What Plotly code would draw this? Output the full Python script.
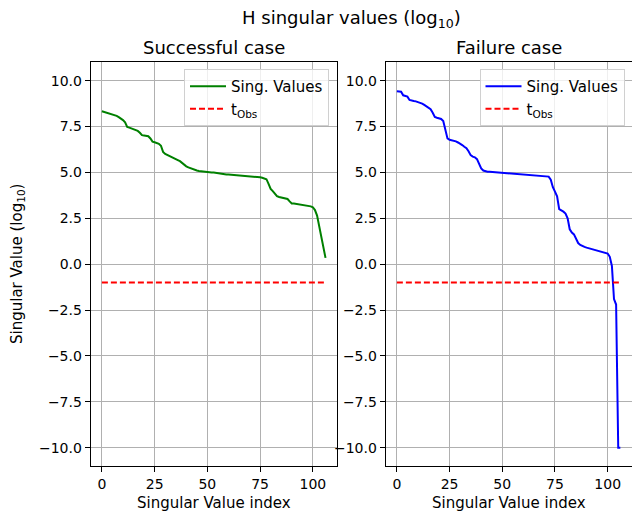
import plotly.graph_objects as go

# ---- data ----
success_sv = [
    8.33, 8.30, 8.26, 8.23, 8.19, 8.16, 8.13, 8.08, 8.01, 7.94,
    7.85, 7.73, 7.48, 7.44, 7.39, 7.33, 7.30, 7.26, 7.16, 7.03,
    7.01, 6.99, 6.97, 6.85, 6.68, 6.64, 6.61, 6.56, 6.45, 6.12,
    6.01, 5.96, 5.90, 5.84, 5.78, 5.73, 5.67, 5.61, 5.50, 5.39,
    5.33, 5.27, 5.22, 5.17, 5.13, 5.10, 5.08, 5.06, 5.05, 5.03,
    5.02, 5.01, 5.00, 4.99, 4.97, 4.94, 4.92, 4.91, 4.90, 4.89,
    4.89, 4.88, 4.87, 4.86, 4.86, 4.85, 4.84, 4.84, 4.83, 4.82,
    4.82, 4.80, 4.79, 4.77, 4.75, 4.73, 4.71, 4.68, 4.63, 4.38,
    4.10, 3.98, 3.84, 3.71, 3.66, 3.64, 3.62, 3.59, 3.55, 3.42,
    3.31, 3.30, 3.28, 3.27, 3.26, 3.25, 3.24, 3.22, 3.19, 3.15,
    3.10, 2.95, 2.65, 2.10, 1.55, 0.95, 0.34,
]
failure_sv = [
    9.42, 9.42, 9.40, 9.20, 9.16, 9.13, 8.95, 8.90, 8.89, 8.87,
    8.84, 8.80, 8.75, 8.68, 8.59, 8.52, 8.44, 8.25, 8.02, 7.98,
    7.95, 7.91, 7.80, 7.30, 6.85, 6.78, 6.76, 6.72, 6.69, 6.63,
    6.57, 6.49, 6.40, 6.32, 6.15, 5.94, 5.86, 5.82, 5.72, 5.48,
    5.22, 5.10, 5.06, 5.04, 5.03, 5.02, 5.01, 5.00, 5.00, 4.99,
    4.99, 4.98, 4.97, 4.96, 4.95, 4.94, 4.93, 4.92, 4.90, 4.89,
    4.88, 4.88, 4.87, 4.86, 4.86, 4.85, 4.84, 4.84, 4.83, 4.82,
    4.81, 4.80, 4.77, 4.60, 4.19, 3.95, 3.70, 3.00, 2.94, 2.86,
    2.76, 2.50, 1.90, 1.72, 1.62, 1.40, 1.15, 1.05, 0.98, 0.94,
    0.90, 0.87, 0.83, 0.80, 0.77, 0.73, 0.70, 0.67, 0.64, 0.61,
    0.58, 0.40, -0.10, -1.90, -2.20, -10.00, -10.00,
]
t_obs = -1.0
x_ticks = [0, 25, 50, 75, 100]
y_ticks = [-10.0, -7.5, -5.0, -2.5, 0.0, 2.5, 5.0, 7.5, 10.0]

W, H = 632, 512
FONT = "DejaVu Sans"

def px_x(p):
    return p / W

def px_y(p):
    return 1 - p / H

fig = go.Figure()

idx_s = list(range(len(success_sv)))
idx_f = list(range(len(failure_sv)))

fig.add_trace(go.Scatter(x=idx_s, y=success_sv, mode="lines", name="Sing. Values",
                         line=dict(color="green", width=2), xaxis="x", yaxis="y",
                         legend="legend"))
fig.add_trace(go.Scatter(x=[idx_s[0], idx_s[-1]], y=[t_obs, t_obs], mode="lines",
                         name="t<sub>Obs</sub>",
                         line=dict(color="red", width=2, dash="6px,3px"),
                         xaxis="x", yaxis="y", legend="legend"))
fig.add_trace(go.Scatter(x=idx_f, y=failure_sv, mode="lines", name="Sing. Values",
                         line=dict(color="blue", width=2), xaxis="x2", yaxis="y2",
                         legend="legend2"))
fig.add_trace(go.Scatter(x=[idx_f[0], idx_f[-1]], y=[t_obs, t_obs], mode="lines",
                         name="t<sub>Obs</sub>",
                         line=dict(color="red", width=2, dash="6px,3px"),
                         xaxis="x2", yaxis="y2", legend="legend2"))

n = len(success_sv) - 1
xr = [-0.05 * n, n * 1.05]
yr = [-11.0, 11.0]

axis_common = dict(
    showline=True, linecolor="black", linewidth=1, mirror=True,
    showgrid=True, gridcolor="#b0b0b0", gridwidth=1,
    ticks="outside", ticklen=5, tickcolor="black", tickwidth=1,
    tickfont=dict(family=FONT, size=14, color="black"),
    zeroline=False,
)

ydom = [px_y(466), px_y(62.3)]
legend_common = dict(
    xanchor="right", yanchor="top",
    bgcolor="rgba(255,255,255,0.8)", bordercolor="#d0d0d0", borderwidth=1,
    font=dict(family=FONT, size=15), itemwidth=36, tracegroupgap=0,
)
fig.update_layout(
    width=W, height=H,
    margin=dict(l=0, r=0, t=0, b=0),
    paper_bgcolor="white", plot_bgcolor="white",
    font=dict(family=FONT, color="black"),
    xaxis=dict(domain=[px_x(90.7), px_x(336.7)], range=xr, tickvals=x_ticks,
               anchor="y", **axis_common),
    yaxis=dict(domain=ydom, range=yr, tickvals=y_ticks, tickformat=".1f",
               anchor="x", **axis_common),
    xaxis2=dict(domain=[px_x(385.7), px_x(631.5)], range=xr, tickvals=x_ticks,
                anchor="y2", **axis_common),
    yaxis2=dict(domain=ydom, range=yr, tickvals=y_ticks, tickformat=".1f",
                anchor="x2", **axis_common),
    legend=dict(x=px_x(329), y=px_y(69), **legend_common),
    legend2=dict(x=px_x(624.5), y=px_y(69), **legend_common),
    showlegend=True,
)

ann_font_title = dict(family=FONT, size=18, color="black")
ann_font_label = dict(family=FONT, size=15, color="black")
annotations = [
    dict(text="H singular values (log<sub>10</sub>)", x=px_x(351), y=px_y(19),
         xref="paper", yref="paper", showarrow=False, font=ann_font_title,
         xanchor="center", yanchor="middle"),
    dict(text="Successful case", x=px_x(213.7), y=px_y(47), xref="paper", yref="paper",
         showarrow=False, font=ann_font_title, xanchor="center", yanchor="middle"),
    dict(text="Failure case", x=px_x(508.6), y=px_y(47), xref="paper", yref="paper",
         showarrow=False, font=ann_font_title, xanchor="center", yanchor="middle"),
    dict(text="Singular Value index", x=px_x(213.7), y=px_y(503), xref="paper", yref="paper",
         showarrow=False, font=ann_font_label, xanchor="center", yanchor="middle"),
    dict(text="Singular Value index", x=px_x(508.6), y=px_y(503), xref="paper", yref="paper",
         showarrow=False, font=ann_font_label, xanchor="center", yanchor="middle"),
    dict(text="Singular Value (log<sub>10</sub>)", x=px_x(17), y=px_y(264), xref="paper",
         yref="paper", showarrow=False, font=ann_font_label, textangle=-90,
         xanchor="center", yanchor="middle"),
]
fig.update_layout(annotations=annotations)

fig.write_html(
    "out.html",
    config={"displayModeBar": False},
    post_script="document.body.style.margin='0';document.body.style.overflow='hidden';",
)
